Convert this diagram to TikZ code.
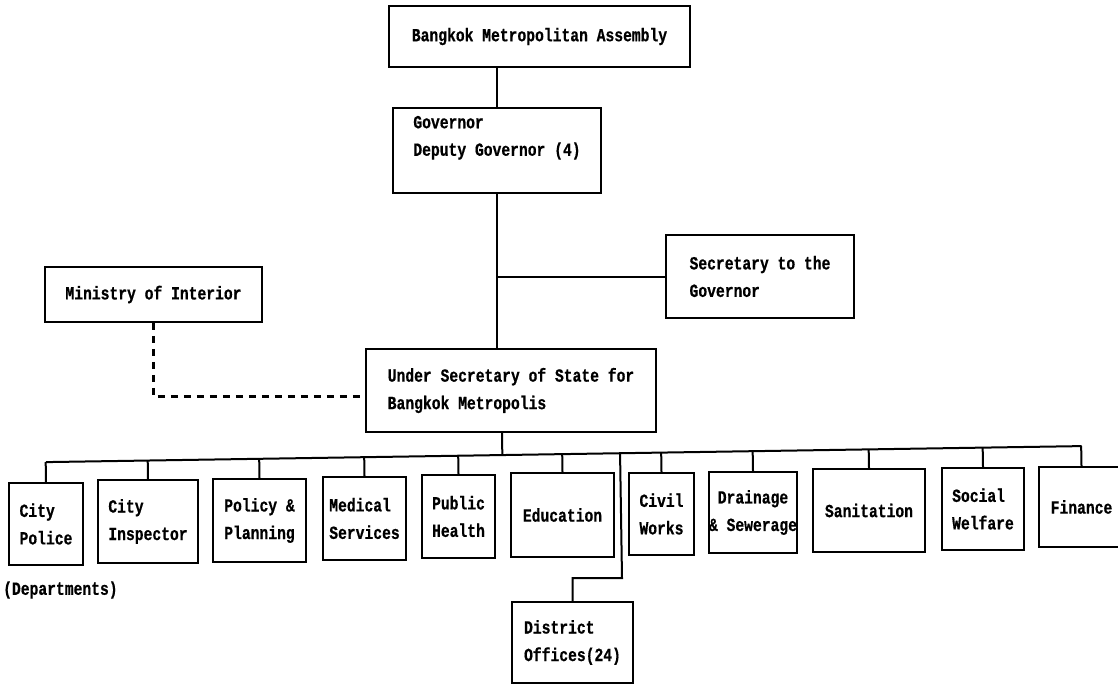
\documentclass[tikz,border=0pt]{standalone}
\usepackage{fontspec}
\newfontfamily\typew{Liberation Mono}[FakeStretch=0.793, BoldFeatures={FakeBold=0.6}]
\usetikzlibrary{calc}
\tikzset{
  box/.style={draw, line width=1.8pt, inner sep=0pt, align=left,
    font=\typew\bfseries\fontsize{18.5}{27.5}\selectfont},
  conn/.style={line width=2pt},
  dconn/.style={line width=2.2pt, dash pattern=on 7pt off 6pt},
  plain/.style={inner sep=0pt, font=\typew\bfseries\fontsize{18.5}{27.5}\selectfont}
}
\newcommand\orgbox[7][]{\node[box,#1,minimum width={(#5-#3)*1pt},minimum height={(#6-#4)*1pt}] (#2) at ({(#3+#5)/2},{(#4+#6)/2}) {#7};}
\begin{document}
\begin{tikzpicture}[x=1pt,y={(0pt,-1pt)}]
\fill[white] (0,0) rectangle (1118,685);
\useasboundingbox (0,0) rectangle (1118,685);
\clip (0,0) rectangle (1118,685);
% top
\orgbox{asm}{389}{6}{690}{67}{Bangkok Metropolitan Assembly}
\orgbox{gov}{393}{108}{601}{193}{\raisebox{14pt}[\height][\depth]{\begin{tabular}{@{}l@{}}Governor\\Deputy Governor (4)\end{tabular}}}
\orgbox{sec}{666}{235}{854}{318}{Secretary to the\\Governor}
\orgbox{min}{45}{267}{262}{322}{Ministry of Interior}
\orgbox{us}{366}{349}{656}{432}{Under Secretary of State for\\Bangkok Metropolis}
% departments
\orgbox{cp}{9}{483}{83}{565}{City\\Police}
\orgbox{ci}{98}{480}{198}{563}{City\\Inspector}
\orgbox{pp}{213}{479}{306}{562}{Policy \&\\Planning}
\orgbox{ms}{323}{477}{406}{560}{Medical\\Services}
\orgbox{ph}{422}{475}{495}{558}{Public\\Health}
\orgbox{ed}{511}{473}{614}{557}{Education}
\orgbox{cw}{629}{473}{694}{555}{Civil\\Works}
\orgbox[align=center]{dr}{709}{472}{797}{553}{Drainage\\\& Sewerage}
\orgbox{sa}{813}{469}{925}{552}{Sanitation}
\orgbox{sw}{942}{468}{1024}{550}{Social\\Welfare}
\orgbox{fi}{1039}{467}{1124}{547}{Finance}
\orgbox{dist}{512}{602}{633}{683}{District\\Offices(24)}
\node[plain, anchor=west] (deplabel) at (3,590) {(Departments)};
% connectors
\draw[conn] (asm.south -| gov.north) -- (gov.north);
\draw[conn] (gov.south) -- (gov.south |- us.north);
\draw[conn] (sec.west) -- (sec.west -| gov.south);
\draw[dconn] (min.south) |- ([yshift=-6pt]us.west);
\coordinate (busL) at ($(cp.north)+(0,-20)$);
\coordinate (busR) at ($(fi.north)+(0,-20)$);
\draw[conn] (busL) -- (busR);
\foreach \n in {cp,ci,pp,ms,ph,ed,cw,dr,sa,sw,fi}
  \draw[conn] (\n.north) -- ($(busL)!(\n.north)!(busR)$);
\coordinate (usb) at ([xshift=-9pt]us.south);
\draw[conn] (usb) -- ($(busL)!(usb)!(busR)$);
\coordinate (djog) at (622,578);
\draw[conn] (dist.north) |- (djog) -- ($(busL)!(djog)!(busR)$);
\end{tikzpicture}
\end{document}
